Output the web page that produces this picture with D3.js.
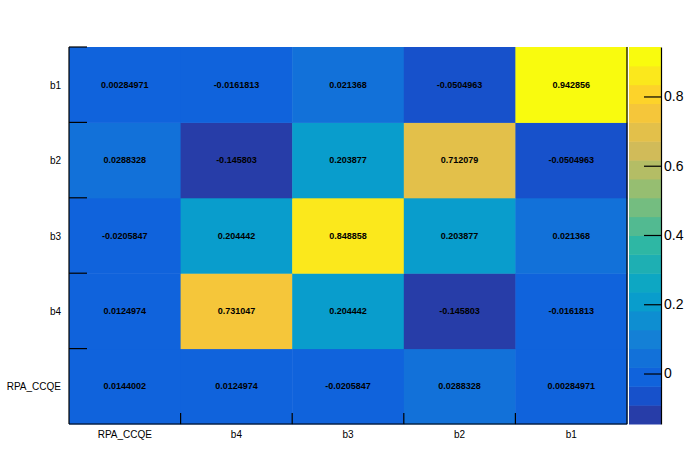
<!DOCTYPE html>
<html>
<head>
<meta charset="utf-8">
<script src="https://cdn.jsdelivr.net/npm/d3@7"></script>
<style>
  body { margin: 0; background: #fff; }
  svg { display: block; font-family: "Liberation Sans", Arial, sans-serif; }
  .cell-text { font-size: 9px; font-weight: bold; fill: #000; }
  .axis-label { font-size: 10px; fill: #000; }
  .pal-label { font-size: 14px; fill: #000; }
</style>
</head>
<body>
<div id="svg-container"></div>
<script>
// data
const xCats = ["RPA_CCQE", "b4", "b3", "b2", "b1"];
const yCats = ["RPA_CCQE", "b4", "b3", "b2", "b1"]; // bottom to top

// rows keyed by y category, values in x category order
const rowRPA = [0.0144002, 0.0124974, -0.0205847, 0.0288328, 0.00284971];
const rowB4 = [0.0124974, 0.731047, 0.204442, -0.145803, -0.0161813];
const rowB3 = [-0.0205847, 0.204442, 0.848858, 0.203877, 0.021368];
const rowB2 = [0.0288328, -0.145803, 0.203877, 0.712079, -0.0504963];
const rowB1 = [0.00284971, -0.0161813, 0.021368, -0.0504963, 0.942856];
const rows = [rowRPA, rowB4, rowB3, rowB2, rowB1];

const paletteTicks = [0, 0.2, 0.4, 0.6, 0.8];
const nLevels = 20;

// kBird palette stops
const birdStops = [0.0, 0.125, 0.25, 0.375, 0.5, 0.625, 0.75, 0.875, 1.0];
const birdR = [0.2082, 0.0592, 0.078, 0.0232, 0.1802, 0.5301, 0.8186, 0.9956, 0.9764];
const birdG = [0.1664, 0.3599, 0.5041, 0.6419, 0.7178, 0.7492, 0.7328, 0.7862, 0.9832];
const birdB = [0.5293, 0.8684, 0.8385, 0.7914, 0.6425, 0.4662, 0.3499, 0.1968, 0.0539];

const cells = [];
rows.forEach((r, j) => r.forEach((v, i) => cells.push({ x: xCats[i], y: yCats[j], v: v })));

////////////////////////////  Init  ///////////////////////////////
const width = 696, height = 472;
const margin = { top: 47, right: 69, bottom: 48, left: 69 }; // plot frame 69..627, 47..424
const plotRight = 627;

const svg = d3.select("#svg-container").append("svg")
  .attr("width", width).attr("height", height);

const xScale = d3.scaleBand().domain(xCats).range([margin.left, plotRight]);
const yScale = d3.scaleBand().domain(yCats).range([height - margin.bottom, margin.top]);

const zmin = d3.min(cells, d => d.v);
const zmax = d3.max(cells, d => d.v);
const dz = (zmax - zmin) / nLevels;

const birdR_s = d3.scaleLinear().domain(birdStops).range(birdR);
const birdG_s = d3.scaleLinear().domain(birdStops).range(birdG);
const birdB_s = d3.scaleLinear().domain(birdStops).range(birdB);
function levelColor(i) {
  const idx = Math.floor((i + 0.99) * 255 / nLevels);
  const t = Math.min(idx, 254) / 254;
  return d3.rgb(birdR_s(t) * 255, birdG_s(t) * 255, birdB_s(t) * 255).toString();
}
function valueLevel(v) {
  return Math.max(0, Math.min(nLevels - 1, Math.floor((v - zmin) / dz)));
}

// cells
svg.selectAll(".cell").data(cells).enter().append("rect")
  .attr("x", d => xScale(d.x))
  .attr("y", d => yScale(d.y))
  .attr("width", xScale.bandwidth() + 0.5)
  .attr("height", yScale.bandwidth() + 0.5)
  .attr("fill", d => levelColor(valueLevel(d.v)));

svg.selectAll(".cell-text").data(cells).enter().append("text")
  .attr("class", "cell-text")
  .attr("x", d => xScale(d.x) + xScale.bandwidth() / 2)
  .attr("y", d => yScale(d.y) + yScale.bandwidth() / 2 + 3)
  .attr("text-anchor", "middle")
  .text(d => String(d.v));

// frame
const frame = svg.append("g").attr("stroke", "#000").attr("stroke-width", 1.2).attr("fill", "none");
frame.append("line").attr("x1", margin.left).attr("x2", margin.left)
  .attr("y1", margin.top).attr("y2", height - margin.bottom);
frame.append("line").attr("x1", margin.left).attr("x2", plotRight)
  .attr("y1", height - margin.bottom).attr("y2", height - margin.bottom);
frame.append("line").attr("x1", plotRight).attr("x2", plotRight)
  .attr("y1", margin.top).attr("y2", height - margin.bottom);

// ticks at bin boundaries
const xEdges = xCats.map(c => xScale(c));
const yEdges = yCats.map(c => yScale(c) + yScale.bandwidth()).concat([margin.top]);
frame.selectAll(".xt").data(xEdges.slice(1)).enter().append("line")
  .attr("x1", d => d).attr("x2", d => d)
  .attr("y1", height - margin.bottom).attr("y2", height - margin.bottom - 11);
frame.selectAll(".yt").data(yEdges.slice(1)).enter().append("line")
  .attr("x1", margin.left).attr("x2", margin.left + 18)
  .attr("y1", d => d).attr("y2", d => d);

// axis labels
svg.selectAll(".xl").data(xCats).enter().append("text")
  .attr("class", "axis-label")
  .attr("x", d => xScale(d) + xScale.bandwidth() / 2)
  .attr("y", height - margin.bottom + 14)
  .attr("text-anchor", "middle")
  .text(d => d);

svg.selectAll(".yl").data(yCats).enter().append("text")
  .attr("class", "axis-label")
  .attr("x", 61)
  .attr("y", d => yScale(d) + yScale.bandwidth() / 2 + 4)
  .attr("text-anchor", "end")
  .text(d => d);

// palette
const palX0 = 629, palX1 = 661;
const zScale = d3.scaleLinear().domain([zmin, zmax]).range([height - margin.bottom, margin.top]);
const levels = d3.range(nLevels);
svg.selectAll(".pal").data(levels).enter().append("rect")
  .attr("x", palX0)
  .attr("width", palX1 - palX0)
  .attr("y", i => zScale(zmin + (i + 1) * dz))
  .attr("height", i => zScale(zmin + i * dz) - zScale(zmin + (i + 1) * dz) + 0.5)
  .attr("fill", i => levelColor(i));

const palAxis = d3.axisRight(zScale)
  .tickValues(paletteTicks)
  .tickSizeInner(-17)
  .tickSizeOuter(0)
  .tickPadding(3)
  .tickFormat(d3.format("~g"));

const pg = svg.append("g")
  .attr("transform", `translate(${palX1},0)`)
  .call(palAxis);
pg.select(".domain").attr("stroke", "#000").attr("stroke-width", 1.2);
pg.selectAll(".tick line").attr("stroke", "#000").attr("stroke-width", 1.2);
pg.selectAll(".tick text")
  .attr("class", "pal-label")
  .attr("x", 3)
  .style("font-size", "14px")
  .style("font-family", "Liberation Sans, Arial, sans-serif");
</script>
</body>
</html>
